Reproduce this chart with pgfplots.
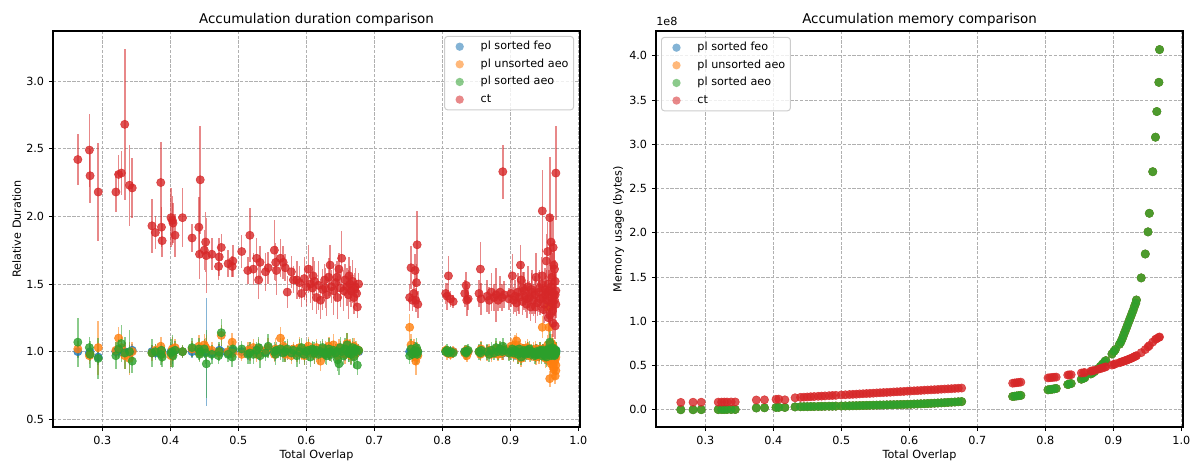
\documentclass[border=0pt]{standalone}
\usepackage{fontspec}
\setmainfont{DejaVu Sans}
\usepackage{pgfplots}
\usepackage{pgfplotstable}
\pgfplotsset{compat=1.18}
\definecolor{tabblue}{HTML}{1F77B4}
\definecolor{taborange}{HTML}{FF7F0E}
\definecolor{tabgreen}{HTML}{2CA02C}
\definecolor{tabred}{HTML}{D62728}
\definecolor{gridgray}{HTML}{B0B0B0}

\pgfplotstableread{
x ct cte fe fee ua uae sa sae
0.264 2.42 0.19 1.00 0.05 1.02 0.06 1.07 0.18
0.281 2.49 0.27 0.99 0.04 0.97 0.06 1.03 0.08
0.282 2.30 0.20 1.00 0.05 0.98 0.05 0.98 0.10
0.294 2.18 0.36 0.96 0.06 1.03 0.20 0.95 0.15
0.320 2.18 0.15 1.00 0.04 1.01 0.06 0.97 0.10
0.324 2.31 0.14 1.01 0.05 1.10 0.08 1.02 0.07
0.328 2.32 0.16 1.00 0.03 1.03 0.08 1.06 0.14
0.333 2.68 0.56 1.00 0.05 0.97 0.10 0.99 0.12
0.340 2.23 0.30 0.99 0.06 0.95 0.12 1.00 0.16
0.344 2.21 0.22 1.01 0.05 1.00 0.07 0.93 0.09
0.373 1.93 0.20 1.00 0.05 0.99 0.06 0.99 0.10
0.378 1.88 0.12 0.99 0.04 1.01 0.05 1.00 0.06
0.386 2.25 0.30 1.00 0.03 1.04 0.07 0.98 0.08
0.387 1.92 0.15 1.01 0.04 1.00 0.05 1.01 0.06
0.388 1.82 0.12 0.99 0.05 0.98 0.06 0.96 0.07
0.401 1.99 0.22 1.00 0.06 0.97 0.08 0.99 0.10
0.403 1.97 0.18 0.98 0.07 1.02 0.09 1.00 0.12
0.404 1.95 0.15 1.00 0.04 0.99 0.06 0.97 0.08
0.407 1.86 0.16 1.01 0.05 1.03 0.06 1.01 0.07
0.418 1.99 0.22 1.00 0.04 1.00 0.05 1.00 0.05
0.432 1.84 0.10 1.00 0.05 1.02 0.06 1.03 0.07
0.442 1.92 0.22 1.01 0.04 1.04 0.08 1.02 0.08
0.443 1.72 0.18 0.99 0.05 0.99 0.06 0.98 0.06
0.444 2.27 0.40 1.00 0.03 1.01 0.05 1.00 0.05
0.450 1.75 0.15 1.00 0.05 1.05 0.08 1.02 0.07
0.452 1.81 0.22 1.00 0.06 1.03 0.07 0.99 0.08
0.453 1.71 0.28 1.00 0.40 1.02 0.10 0.91 0.25
0.461 1.72 0.12 0.99 0.05 1.01 0.06 0.98 0.07
0.471 1.63 0.10 1.00 0.04 0.99 0.05 0.97 0.06
0.472 1.70 0.14 1.01 0.05 1.00 0.06 1.00 0.07
0.475 1.77 0.10 1.00 0.05 1.12 0.08 1.14 0.10
0.485 1.65 0.10 0.99 0.04 1.00 0.05 0.98 0.06
0.491 1.63 0.08 1.00 0.05 1.07 0.07 0.96 0.07
0.492 1.67 0.12 1.01 0.04 0.99 0.05 1.02 0.06
0.505 1.74 0.12 1.00 0.04 0.98 0.05 1.02 0.06
0.514 1.60 0.10 0.99 0.05 1.01 0.06 0.98 0.07
0.517 1.86 0.20 1.00 0.06 1.00 0.07 0.99 0.08
0.522 1.61 0.12 1.01 0.05 1.03 0.06 0.98 0.07
0.527 1.69 0.15 1.00 0.04 0.98 0.06 1.01 0.06
0.530 1.53 0.14 0.99 0.05 1.02 0.07 1.03 0.08
0.532 1.66 0.12 1.00 0.06 0.99 0.06 0.97 0.09
0.540 1.59 0.14 1.00 0.05 1.01 0.05 0.99 0.06
0.544 1.62 0.12 1.01 0.04 1.03 0.07 1.04 0.09
0.553 1.75 0.22 1.00 0.05 0.98 0.06 1.00 0.07
0.555 1.66 0.14 0.99 0.06 1.02 0.08 0.98 0.08
0.556 1.60 0.18 1.00 0.05 1.00 0.05 1.01 0.06
0.562 1.69 0.14 1.00 0.04 1.10 0.08 1.02 0.08
0.566 1.66 0.12 1.01 0.05 1.04 0.06 0.99 0.07
0.569 1.62 0.10 0.99 0.05 0.98 0.06 1.00 0.08
0.572 1.44 0.12 1.00 0.06 1.01 0.07 1.02 0.07
0.578 1.59 0.12 1.00 0.05 0.97 0.06 0.99 0.06
0.581 1.53 0.10 1.01 0.04 1.02 0.05 1.01 0.05
0.586 1.53 0.14 0.99 0.05 0.99 0.07 0.97 0.08
0.590 1.51 0.12 1.00 0.06 1.03 0.08 1.00 0.09
0.593 1.43 0.10 1.00 0.05 1.00 0.06 1.03 0.07
0.597 1.54 0.16 0.98 0.06 0.97 0.07 0.98 0.08
0.600 1.48 0.14 1.00 0.05 1.02 0.06 1.00 0.06
0.603 1.61 0.18 1.01 0.06 1.04 0.07 1.01 0.08
0.606 1.50 0.14 1.00 0.05 0.99 0.06 0.96 0.07
0.609 1.47 0.16 0.99 0.04 1.01 0.05 1.02 0.06
0.612 1.52 0.15 1.00 0.06 0.98 0.07 0.99 0.08
0.615 1.40 0.12 1.00 0.05 1.03 0.06 1.01 0.07
0.618 1.49 0.18 1.01 0.05 1.00 0.06 0.98 0.07
0.621 1.38 0.14 0.99 0.06 0.93 0.07 1.00 0.08
0.624 1.46 0.15 1.00 0.05 1.02 0.06 1.03 0.06
0.627 1.53 0.12 1.00 0.04 0.98 0.05 0.99 0.06
0.630 1.42 0.16 1.01 0.05 1.01 0.06 0.97 0.07
0.633 1.55 0.14 1.00 0.06 1.04 0.07 1.02 0.08
0.635 1.64 0.15 0.99 0.05 0.99 0.06 1.00 0.07
0.637 1.48 0.12 1.00 0.05 1.02 0.06 0.98 0.06
0.640 1.45 0.18 1.00 0.04 1.05 0.08 1.01 0.07
0.643 1.51 0.14 1.01 0.05 1.00 0.06 0.99 0.07
0.646 1.40 0.16 0.99 0.06 0.97 0.07 0.94 0.08
0.648 1.61 0.12 1.00 0.05 1.03 0.06 0.91 0.08
0.650 1.47 0.14 1.00 0.05 1.01 0.07 1.03 0.08
0.652 1.69 0.20 1.01 0.04 0.99 0.05 1.00 0.06
0.655 1.45 0.15 1.00 0.05 1.02 0.06 0.97 0.07
0.657 1.53 0.12 0.99 0.06 0.98 0.07 1.02 0.08
0.660 1.48 0.14 1.00 0.05 1.06 0.08 1.05 0.09
0.662 1.42 0.18 1.00 0.06 1.00 0.06 0.99 0.07
0.664 1.50 0.13 1.01 0.05 1.03 0.06 1.01 0.07
0.666 1.45 0.12 1.00 0.04 0.97 0.06 0.98 0.08
0.668 1.52 0.16 0.99 0.05 1.01 0.07 1.03 0.07
0.670 1.40 0.12 1.00 0.06 1.04 0.06 0.96 0.08
0.672 1.48 0.14 1.00 0.05 0.99 0.05 1.02 0.06
0.674 1.43 0.10 1.01 0.04 1.02 0.06 1.00 0.06
0.675 1.33 0.08 1.00 0.05 1.00 0.05 0.90 0.07
0.677 1.50 0.08 1.00 0.04 1.01 0.05 1.01 0.05
0.752 1.40 0.10 1.00 0.04 1.18 0.10 0.97 0.06
0.754 1.62 0.16 1.00 0.05 1.05 0.08 1.02 0.07
0.756 1.38 0.08 0.99 0.04 0.98 0.06 0.98 0.06
0.758 1.43 0.10 1.00 0.05 1.02 0.07 1.00 0.07
0.760 1.60 0.12 1.01 0.06 0.96 0.06 1.01 0.06
0.761 1.38 0.09 1.00 0.04 0.93 0.10 0.99 0.06
0.762 1.51 0.14 0.99 0.05 1.00 0.05 1.03 0.07
0.763 1.79 0.25 1.00 0.05 1.01 0.06 0.98 0.07
0.764 1.35 0.10 1.00 0.04 0.97 0.05 1.00 0.06
0.805 1.43 0.08 1.00 0.03 1.01 0.04 1.00 0.04
0.807 1.41 0.10 1.00 0.04 0.99 0.05 1.01 0.05
0.809 1.56 0.15 0.99 0.03 1.00 0.04 0.99 0.04
0.812 1.39 0.06 1.00 0.04 0.98 0.04 1.00 0.04
0.816 1.37 0.05 1.00 0.03 1.00 0.04 0.99 0.04
0.833 1.43 0.10 1.00 0.04 0.99 0.05 1.00 0.05
0.835 1.49 0.10 1.00 0.03 1.01 0.04 0.99 0.05
0.836 1.38 0.12 0.99 0.04 0.97 0.05 1.00 0.05
0.838 1.39 0.08 1.00 0.04 1.00 0.04 1.01 0.05
0.854 1.43 0.10 1.00 0.05 1.00 0.05 1.00 0.06
0.856 1.61 0.20 1.00 0.04 0.98 0.05 0.99 0.05
0.857 1.39 0.12 1.01 0.04 1.02 0.06 1.01 0.06
0.866 1.41 0.12 1.00 0.05 0.99 0.06 1.00 0.06
0.869 1.38 0.10 1.00 0.04 1.01 0.05 0.98 0.06
0.872 1.44 0.14 0.99 0.05 0.98 0.06 1.01 0.06
0.876 1.40 0.10 1.00 0.04 1.00 0.05 0.99 0.05
0.879 1.42 0.20 1.00 0.05 1.02 0.06 1.03 0.07
0.882 1.38 0.08 1.01 0.04 0.98 0.05 1.00 0.06
0.885 1.44 0.12 1.00 0.05 1.01 0.06 1.02 0.06
0.888 1.40 0.10 1.00 0.04 0.99 0.05 1.00 0.05
0.889 2.33 0.20 0.99 0.05 1.00 0.06 1.04 0.06
0.891 1.42 0.10 1.00 0.04 1.02 0.05 1.01 0.05
0.898 1.39 0.08 1.00 0.05 0.99 0.05 0.99 0.06
0.901 1.43 0.10 1.01 0.04 1.04 0.06 1.00 0.06
0.903 1.56 0.16 1.00 0.05 1.02 0.06 1.02 0.06
0.905 1.38 0.10 1.00 0.04 0.98 0.06 0.99 0.06
0.907 1.41 0.12 0.99 0.05 1.05 0.07 1.01 0.06
0.909 1.36 0.10 1.00 0.04 1.08 0.06 1.00 0.05
0.911 1.44 0.14 1.00 0.05 0.97 0.06 0.98 0.07
0.913 1.40 0.12 1.01 0.04 1.00 0.05 1.02 0.06
0.915 1.64 0.15 1.00 0.05 1.03 0.06 0.99 0.06
0.916 1.53 0.14 1.00 0.04 0.95 0.06 0.96 0.06
0.918 1.37 0.10 0.99 0.05 1.01 0.05 1.00 0.06
0.920 1.45 0.14 1.00 0.04 0.98 0.06 1.01 0.05
0.922 1.41 0.12 1.00 0.05 1.02 0.06 0.98 0.06
0.924 1.35 0.10 1.01 0.04 0.99 0.05 1.00 0.06
0.926 1.48 0.15 1.00 0.05 1.01 0.06 0.99 0.05
0.928 1.40 0.12 1.00 0.04 0.97 0.05 1.02 0.06
0.930 1.33 0.10 0.99 0.05 1.00 0.06 0.98 0.06
0.932 1.44 0.16 1.00 0.04 0.98 0.05 1.00 0.05
0.934 1.38 0.12 1.00 0.05 1.01 0.06 0.99 0.06
0.936 1.42 0.14 1.00 0.04 0.99 0.05 0.97 0.06
0.938 1.55 0.18 1.01 0.05 0.96 0.06 1.00 0.06
0.940 1.36 0.10 1.00 0.04 1.00 0.06 0.98 0.05
0.942 1.44 0.15 1.00 0.05 0.97 0.06 0.99 0.06
0.944 1.39 0.12 0.99 0.04 1.02 0.05 1.01 0.06
0.946 1.50 0.20 1.00 0.05 0.99 0.06 0.97 0.06
0.947 2.04 0.30 1.00 0.05 1.18 0.08 1.00 0.05
0.947 1.56 0.20 1.00 0.04 0.98 0.05 0.99 0.06
0.948 1.40 0.12 1.01 0.05 1.00 0.06 1.01 0.05
0.950 1.35 0.14 1.00 0.04 0.97 0.05 0.98 0.06
0.951 1.46 0.16 1.00 0.05 0.99 0.06 0.97 0.06
0.952 1.42 0.14 0.99 0.05 0.95 0.07 1.00 0.06
0.953 1.67 0.20 1.00 0.06 1.01 0.06 0.96 0.07
0.954 1.38 0.10 1.00 0.05 0.98 0.06 0.99 0.06
0.955 1.74 0.22 1.01 0.05 1.05 0.07 1.01 0.06
0.956 1.25 0.10 1.00 0.06 1.33 0.10 1.02 0.07
0.957 1.45 0.15 1.00 0.05 1.18 0.08 0.98 0.06
0.958 1.99 0.45 0.98 0.06 0.80 0.06 1.00 0.07
0.958 1.27 0.12 1.05 0.08 0.97 0.07 1.07 0.08
0.959 1.40 0.12 1.00 0.05 0.93 0.07 0.99 0.06
0.960 1.81 0.20 1.00 0.06 1.02 0.06 1.01 0.06
0.960 1.48 0.16 1.01 0.05 0.91 0.08 0.97 0.06
0.961 1.36 0.12 1.00 0.05 1.06 0.07 1.00 0.07
0.962 1.44 0.14 0.99 0.06 0.98 0.06 1.03 0.07
0.963 1.77 0.22 1.00 0.05 0.89 0.07 0.98 0.07
0.963 1.21 0.10 1.00 0.06 1.04 0.06 1.00 0.06
0.964 1.64 0.18 1.01 0.05 0.95 0.06 0.99 0.07
0.964 1.42 0.14 1.00 0.05 0.87 0.07 1.02 0.06
0.965 1.61 0.14 1.00 0.06 1.00 0.06 0.97 0.07
0.965 1.38 0.12 0.99 0.05 0.92 0.07 1.01 0.06
0.966 1.19 0.10 1.00 0.05 0.82 0.06 1.00 0.06
0.966 1.52 0.16 1.00 0.06 0.94 0.07 0.98 0.07
0.967 2.32 0.35 1.00 0.05 0.86 0.06 1.01 0.06
0.967 1.45 0.14 1.01 0.05 0.96 0.06 0.99 0.06
0.967 1.35 0.10 1.00 0.06 0.90 0.07 1.00 0.07
0.919 1.47 0.12 1.00 0.05 1.00 0.06 0.99 0.06
0.925 1.39 0.14 1.00 0.04 1.03 0.06 1.01 0.06
0.931 1.46 0.12 0.99 0.05 0.99 0.05 1.00 0.06
0.937 1.33 0.12 1.00 0.05 1.02 0.06 0.98 0.06
0.943 1.47 0.13 1.00 0.04 0.98 0.06 1.00 0.05
0.949 1.31 0.10 1.01 0.05 1.01 0.05 0.99 0.06
0.953 1.44 0.16 1.00 0.05 0.96 0.06 1.01 0.06
0.956 1.50 0.14 1.00 0.05 1.01 0.06 0.99 0.06
0.959 1.33 0.12 1.00 0.05 0.99 0.06 1.00 0.06
0.961 1.55 0.18 1.00 0.06 0.97 0.07 0.98 0.07
0.962 1.30 0.12 1.01 0.05 1.02 0.06 1.01 0.06
0.966 1.42 0.16 1.00 0.05 0.99 0.06 1.00 0.06
0.610 1.56 0.14 1.00 0.05 1.00 0.06 1.01 0.06
0.628 1.47 0.15 0.99 0.05 1.02 0.06 0.98 0.07
0.645 1.55 0.12 1.00 0.04 0.99 0.06 1.00 0.06
0.663 1.56 0.14 1.00 0.05 1.01 0.06 0.99 0.07
0.671 1.46 0.12 1.00 0.05 0.98 0.05 1.01 0.06
}\dur

\pgfplotstableread{
x mc mp
0.264 0.083 0.000
0.282 0.085 0.000
0.294 0.085 0.001
0.319 0.086 0.002
0.324 0.086 0.002
0.328 0.087 0.002
0.332 0.087 0.003
0.338 0.088 0.003
0.344 0.088 0.003
0.375 0.110 0.020
0.387 0.112 0.022
0.404 0.118 0.026
0.408 0.120 0.027
0.417 0.112 0.026
0.432 0.135 0.032
0.440 0.140 0.034
0.445 0.142 0.035
0.450 0.144 0.035
0.455 0.147 0.036
0.460 0.149 0.036
0.466 0.152 0.037
0.471 0.154 0.038
0.476 0.156 0.039
0.482 0.159 0.040
0.487 0.161 0.040
0.492 0.163 0.041
0.500 0.167 0.042
0.506 0.169 0.043
0.512 0.172 0.044
0.517 0.174 0.045
0.522 0.176 0.046
0.527 0.179 0.047
0.532 0.181 0.048
0.537 0.183 0.049
0.542 0.185 0.050
0.547 0.187 0.051
0.552 0.190 0.052
0.557 0.192 0.053
0.562 0.194 0.054
0.567 0.196 0.055
0.572 0.198 0.056
0.577 0.201 0.057
0.582 0.203 0.058
0.587 0.205 0.059
0.592 0.207 0.060
0.597 0.210 0.061
0.602 0.212 0.062
0.607 0.214 0.064
0.612 0.216 0.065
0.617 0.218 0.067
0.622 0.221 0.068
0.627 0.223 0.070
0.632 0.225 0.072
0.637 0.227 0.074
0.642 0.229 0.076
0.647 0.232 0.078
0.652 0.234 0.080
0.657 0.236 0.083
0.662 0.238 0.085
0.667 0.241 0.087
0.672 0.243 0.090
0.677 0.245 0.092
0.752 0.300 0.150
0.755 0.303 0.153
0.758 0.306 0.156
0.761 0.309 0.159
0.764 0.312 0.162
0.804 0.360 0.225
0.807 0.362 0.228
0.810 0.365 0.232
0.813 0.367 0.236
0.816 0.369 0.240
0.833 0.392 0.285
0.835 0.394 0.290
0.838 0.396 0.296
0.853 0.415 0.345
0.856 0.418 0.355
0.858 0.420 0.362
0.867 0.436 0.405
0.869 0.440 0.415
0.872 0.445 0.430
0.878 0.458 0.465
0.881 0.465 0.490
0.884 0.472 0.515
0.887 0.480 0.540
0.889 0.485 0.555
0.898 0.505 0.630
0.901 0.512 0.660
0.903 0.518 0.680
0.909 0.532 0.740
0.911 0.537 0.765
0.913 0.542 0.800
0.915 0.548 0.840
0.917 0.553 0.880
0.919 0.559 0.920
0.921 0.565 0.960
0.923 0.571 1.000
0.925 0.577 1.040
0.927 0.584 1.080
0.929 0.591 1.120
0.931 0.599 1.165
0.933 0.607 1.205
0.934 0.611 1.240
0.941 0.645 1.490
0.947 0.680 1.760
0.951 0.710 2.010
0.953 0.725 2.220
0.958 0.765 2.690
0.962 0.795 3.080
0.964 0.805 3.370
0.967 0.818 3.700
0.968 0.822 4.070
}\mem

\pgfplotsset{
  panel/.style={
    scale only axis, width=379.44bp, height=285.12bp,
    xmin=0.2275, xmax=1.0025,
    xtick={0.3,0.4,0.5,0.6,0.7,0.8,0.9,1.0},
    tick pos=left, tick align=outside, major tick length=2.9bp,
    every tick/.style={black, line width=0.7bp},
    axis line style={line width=0.75bp},
    grid=major,
    grid style={gridgray, line width=0.65bp, dash pattern=on 2.4bp off 1.05bp},
    title style={font=\fontsize{9.7}{11.6}\selectfont, yshift=-6bp},
    label style={font=\fontsize{8.1}{9.7}\selectfont},
    xlabel shift=-3bp, ylabel shift=-3bp,
    tick label style={font=\fontsize{8.1}{9.7}\selectfont},
    /pgf/number format/assume math mode=true,
    xticklabel style={/pgf/number format/.cd, fixed, fixed zerofill, precision=1},
    yticklabel style={/pgf/number format/.cd, fixed, fixed zerofill, precision=1},
    xlabel={Total Overlap},
    legend cell align=left,
    legend style={draw=black!20, line width=0.7bp, rounded corners=2bp, fill=white, fill opacity=0.8, text opacity=1,
      font=\fontsize{8.1}{9.7}\selectfont, inner xsep=1.6bp, inner ysep=1bp, row sep=0bp,
      nodes={text height=6bp, text depth=1.8bp, inner ysep=2.45bp, inner xsep=2bp}},
  },
  dot/.style={only marks, mark=*, mark size=3.0pt, color=#1,
    mark options={fill=#1, draw=#1, fill opacity=0.8, draw opacity=0.8}},
  ebar/.style={dot=#1,
    error bars/y dir=both, error bars/y explicit, error bars/error mark=none,
    error bars/error bar style={line width=1.1bp, draw opacity=0.55, color=#1}},
}
\newcommand{\legdot}[1]{\addlegendimage{legend image code/.code={%
  \path[draw=none, fill=none] (0bp,-3bp) rectangle (22.3bp,3bp);
  \fill[draw=none, #1, fill opacity=0.55] (9.2bp,0bp) circle (3.0bp);}}}

\begin{document}
\begin{tikzpicture}
\begin{axis}[panel, at={(0,0)},
  ymin=0.443, ymax=3.37,
  ytick={0.5,1.0,1.5,2.0,2.5,3.0},
  ylabel={Relative Duration},
  title={Accumulation duration comparison},
  legend style={at={(1,1)}, anchor=north east, xshift=-4.3bp, yshift=-3.6bp}]
\addplot[ebar=tabblue, forget plot] table[x=x, y=fe, y error=fee] {\dur};
\addplot[ebar=taborange, forget plot] table[x=x, y=ua, y error=uae] {\dur};
\addplot[ebar=tabgreen, forget plot] table[x=x, y=sa, y error=sae] {\dur};
\addplot[ebar=tabred, forget plot] table[x=x, y=ct, y error=cte] {\dur};
\legdot{tabblue}
\addlegendentry{pl sorted feo}
\legdot{taborange}
\addlegendentry{pl unsorted aeo}
\legdot{tabgreen}
\addlegendentry{pl sorted aeo}
\legdot{tabred}
\addlegendentry{ct}
\end{axis}
\begin{axis}[panel, at={(434.16bp,0)}, name=memax,
  ymin=-0.195, ymax=4.28,
  ytick={0,0.5,1.0,1.5,2.0,2.5,3.0,3.5,4.0},
  ylabel={Memory usage (bytes)},
  title={Accumulation memory comparison},
  legend style={at={(0,1)}, anchor=north west, xshift=3.6bp, yshift=-4.3bp}]
\addplot[dot=tabblue, forget plot] table[x=x, y=mp] {\mem};
\addplot[dot=taborange, forget plot] table[x=x, y=mp] {\mem};
\addplot[dot=tabgreen, forget plot] table[x=x, y=mp] {\mem};
\addplot[dot=tabred, forget plot] table[x=x, y=mc] {\mem};
\legdot{tabblue}
\addlegendentry{pl sorted feo}
\legdot{taborange}
\addlegendentry{pl unsorted aeo}
\legdot{tabgreen}
\addlegendentry{pl sorted aeo}
\legdot{tabred}
\addlegendentry{ct}
\end{axis}
\node[anchor=south west, font=\fontsize{8.1}{9.7}\selectfont, inner sep=0pt] at ([yshift=3.5bp]memax.north west) {1e8};
\pgfresetboundingbox
\path[use as bounding box] (-38.16bp,-26.64bp) rectangle (828bp,307.44bp);
\end{tikzpicture}
\end{document}
